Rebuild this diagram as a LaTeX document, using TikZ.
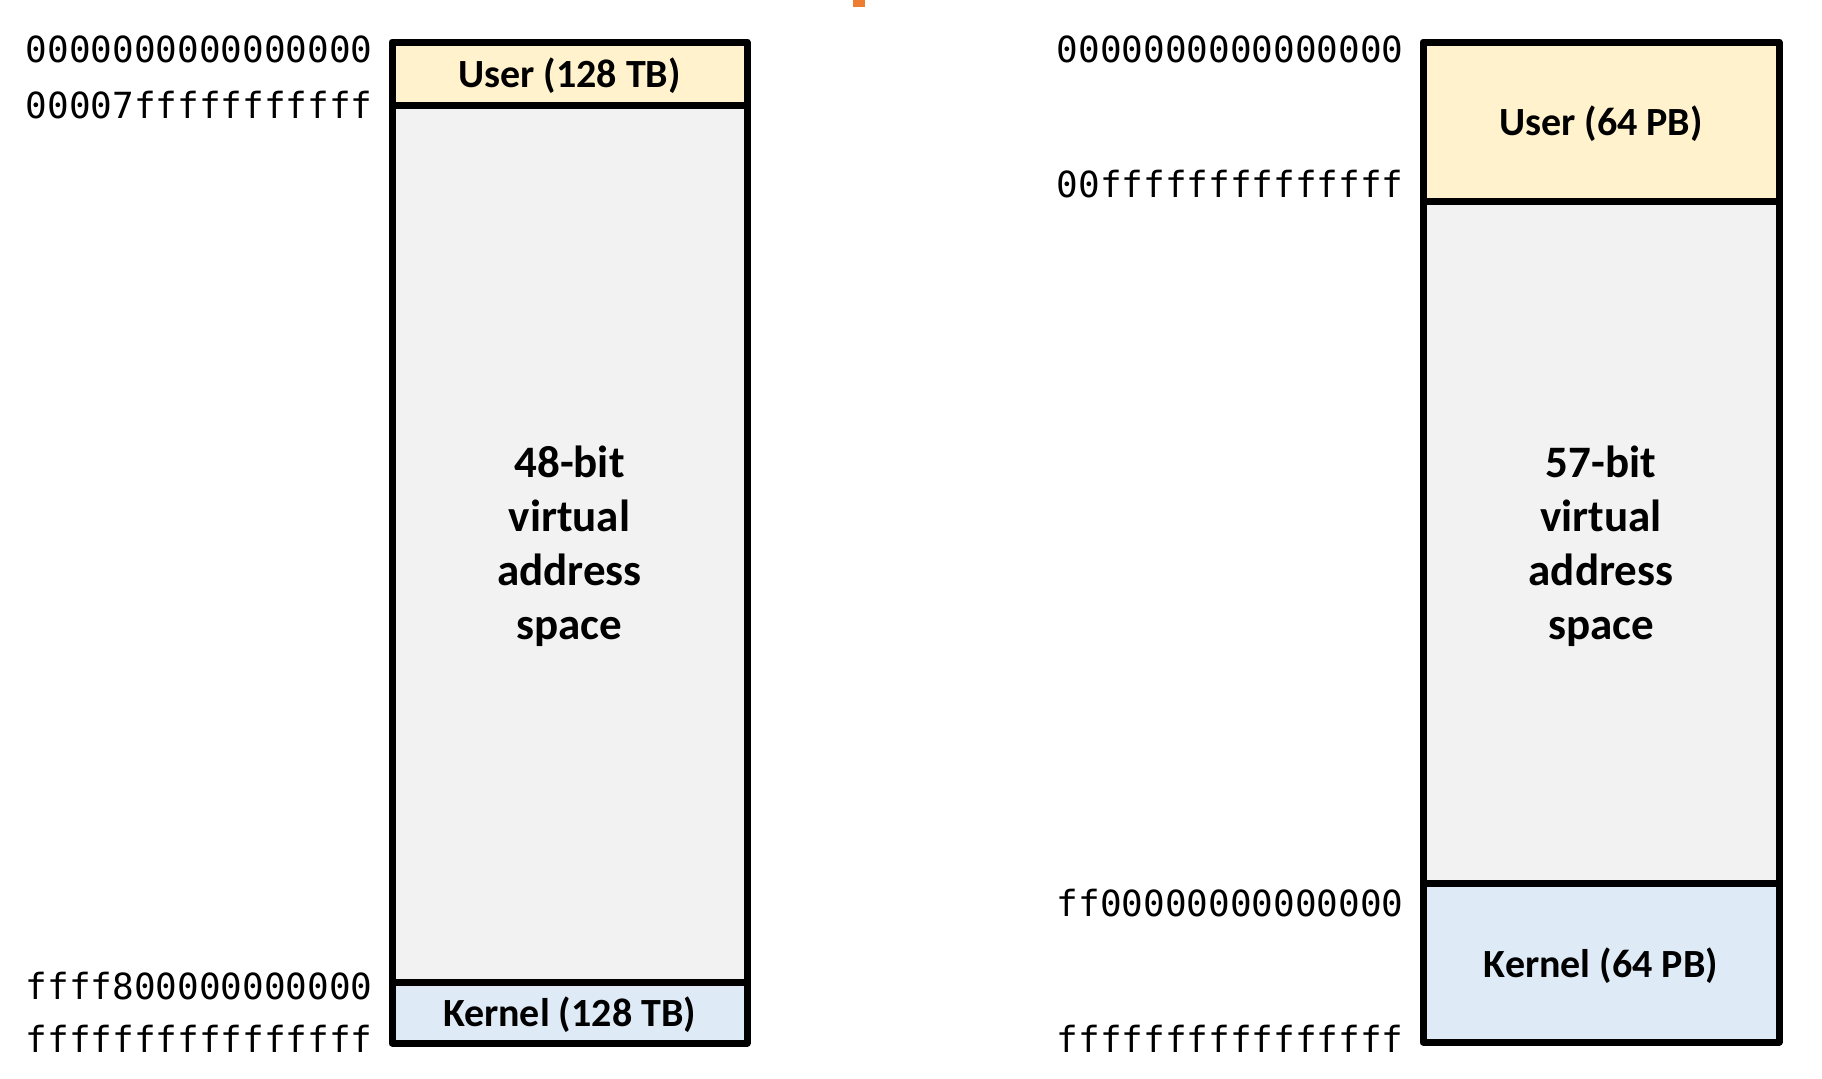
\documentclass[tikz,border=0pt]{standalone}
\usepackage{fontspec}
\setmainfont{Carlito}
\setmonofont{DejaVu Sans Mono}
\usetikzlibrary{positioning}
\definecolor{userfill}{HTML}{FFF2CC}
\definecolor{midfill}{HTML}{F2F2F2}
\definecolor{kernfill}{HTML}{DEEBF7}
\definecolor{titleorange}{HTML}{ED7D31}

\begin{document}
\begin{tikzpicture}[x=0.5pt,y=-0.5pt,
    region/.style={draw=black,line width=3.5pt,line join=round},
    addr/.style={anchor=east,inner sep=0pt,font=\ttfamily\fontsize{18}{20}\selectfont},
    lbl/.style={align=center,font=\bfseries\fontsize{20}{24}\selectfont},
    midlbl/.style={align=center,font=\bfseries\fontsize{22.5}{27}\selectfont}]
        \useasboundingbox (0,0) rectangle (1822,1078);

        % Cut-off title mark
        \fill[titleorange] (853,0) rectangle (865,7);

        % 48-bit layout
        \draw[region,fill=userfill] (392,42) rectangle (747,105);
        \draw[region,fill=midfill] (392,105) rectangle (747,982);
        \draw[region,fill=kernfill] (392,982) rectangle (747,1043);
        \node[lbl] (user48) at (569.5,76) {User (128 TB)};
        \node[midlbl] (space48) at (569.5,546) {48-bit\\virtual\\address\\space};
        \node[lbl] (kern48) at (569.5,1015) {Kernel (128 TB)};

        \node[addr] (a48top) at (373,49) {0000000000000000};
        \node[addr] (a48user) at (373,105) {00007fffffffffff};
        \node[addr] (a48kern) at (373,986) {ffff800000000000};
        \node[addr] (a48end) at (373,1039) {ffffffffffffffff};

        % 57-bit layout
        \draw[region,fill=userfill] (1423,42) rectangle (1779,201);
        \draw[region,fill=midfill] (1423,201) rectangle (1779,883);
        \draw[region,fill=kernfill] (1423,883) rectangle (1779,1042);
        \node[lbl] (user57) at (1601,124) {User (64 PB)};
        \node[midlbl] (space57) at (1601,546) {57-bit\\virtual\\address\\space};
        \node[lbl] (kern57) at (1601,966) {Kernel (64 PB)};

        \node[addr] (a57top) at (1404,49) {0000000000000000};
        \node[addr] (a57user) at (1404,184) {00ffffffffffffff};
        \node[addr] (a57kern) at (1404,903) {ff00000000000000};
        \node[addr] (a57end) at (1404,1039) {ffffffffffffffff};
\end{tikzpicture}
\end{document}
